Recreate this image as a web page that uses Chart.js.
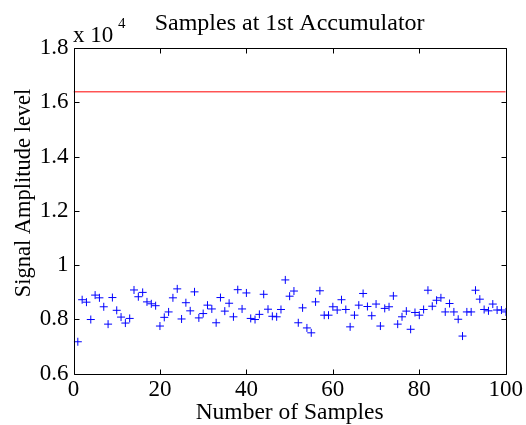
<!DOCTYPE html>
<html>
<head>
<meta charset="utf-8">
<script src="https://cdn.jsdelivr.net/npm/chart.js@4.4.1/dist/chart.umd.min.js"></script>
<style>
  html, body { margin: 0; padding: 0; background: #fff; }
  #wrap { width: 526px; height: 425px; }
</style>
</head>
<body>
<div id="wrap"><canvas id="accChart" width="526" height="425"></canvas></div>
<script>
// sample number 1..100
const sampleIndex = [
    1, 2, 3, 4, 5, 6, 7, 8, 9, 10,
    11, 12, 13, 14, 15, 16, 17, 18, 19, 20,
    21, 22, 23, 24, 25, 26, 27, 28, 29, 30,
    31, 32, 33, 34, 35, 36, 37, 38, 39, 40,
    41, 42, 43, 44, 45, 46, 47, 48, 49, 50,
    51, 52, 53, 54, 55, 56, 57, 58, 59, 60,
    61, 62, 63, 64, 65, 66, 67, 68, 69, 70,
    71, 72, 73, 74, 75, 76, 77, 78, 79, 80,
    81, 82, 83, 84, 85, 86, 87, 88, 89, 90,
    91, 92, 93, 94, 95, 96, 97, 98, 99, 100
];

// accumulator output per sample
const sampleValues = [
    7170, 8720, 8630, 7990, 8890, 8790, 8460, 7820, 8800, 8330,
    8080, 7860, 8030, 9080, 8830, 8990, 8640, 8570, 8500, 7750,
    8070, 8270, 8790, 9120, 8010, 8610, 8310, 9010, 8050, 8210,
    8520, 8380, 7870, 8800, 8300, 8590, 8090, 9090, 8380, 8970,
    8030, 7990, 8180, 8920, 8370, 8110, 8090, 8360, 9450, 8850,
    9040, 7870, 8420, 7680, 7500, 8640, 9050, 8150, 8150, 8460,
    8340, 8720, 8360, 7720, 8150, 8520, 8950, 8470, 8130, 8560,
    7750, 8400, 8460, 8860, 7820, 8090, 8300, 7630, 8250, 8150,
    8360, 9070, 8480, 8700, 8790, 8270, 8580, 8270, 8000, 7380,
    8270, 8270, 9070, 8740, 8360, 8310, 8560, 8340, 8340, 8270
];

// threshold line (2^14)
const thresholdValue = 16384;
const thresholdX = [0, 100];

const xTicks = [0, 20, 40, 60, 80, 100];
const yTicks = [6000, 8000, 10000, 12000, 14000, 16000, 18000];

const serif = '"Liberation Serif", "Times New Roman", serif';

// box + inward ticks + texts, matlab style
const matlabFrame = {
    id: 'matlabFrame',
    afterDraw(chart) {
        const ctx = chart.ctx;
        const a = chart.chartArea;
        const xs = chart.scales.x;
        const ys = chart.scales.y;
        const L = Math.round(a.left) + 0.5, R = Math.round(a.right) + 0.5;
        const T = Math.round(a.top) + 0.5, B = Math.round(a.bottom) + 0.5;
        const tl = 5;

        ctx.save();
        ctx.strokeStyle = '#000';
        ctx.lineWidth = 1;
        ctx.beginPath();
        ctx.rect(L, T, R - L, B - T);
        xTicks.forEach(v => {
            const px = Math.round(xs.getPixelForValue(v)) + 0.5;
            ctx.moveTo(px, B); ctx.lineTo(px, B - tl);
            ctx.moveTo(px, T); ctx.lineTo(px, T + tl);
        });
        yTicks.forEach(v => {
            const py = Math.round(ys.getPixelForValue(v)) + 0.5;
            ctx.moveTo(L, py); ctx.lineTo(L + tl, py);
            ctx.moveTo(R, py); ctx.lineTo(R - tl, py);
        });
        ctx.stroke();

        ctx.fillStyle = '#000';
        ctx.textBaseline = 'alphabetic';

        ctx.textAlign = 'center';
        ctx.font = '24px ' + serif;
        ctx.fillText('Samples at 1st Accumulator', (a.left + a.right) / 2, 30);
        ctx.font = '23.5px ' + serif;
        ctx.fillText('Number of Samples', (a.left + a.right) / 2, 419);

        ctx.textAlign = 'left';
        ctx.font = '23px ' + serif;
        ctx.fillText('x 10', 73, 42);
        ctx.font = '15px ' + serif;
        ctx.fillText('4', 118, 28);

        ctx.font = '22.5px ' + serif;
        ctx.translate(30, 193);
        ctx.rotate(-Math.PI / 2);
        ctx.textAlign = 'center';
        ctx.fillText('Signal Amplitude level', 0, 0);
        ctx.restore();
    }
};

const ctx = document.getElementById('accChart').getContext('2d');

new Chart(ctx, {
    type: 'scatter',
    data: {
        datasets: [{
            label: 'samples',
            data: sampleIndex.map((n, i) => ({ x: n, y: sampleValues[i] })),
            pointStyle: 'cross',
            pointRadius: 4,
            pointHoverRadius: 4,
            borderColor: '#0000ff',
            backgroundColor: '#0000ff',
            pointBorderWidth: 1,
            showLine: false
        }, {
            label: 'threshold',
            data: thresholdX.map(x => ({ x: x, y: thresholdValue })),
            showLine: true,
            borderColor: '#ff0000',
            borderWidth: 1,
            pointRadius: 0
        }]
    },
    options: {
        responsive: false,
        animation: false,
        events: [],
        devicePixelRatio: 1,
        layout: { padding: { top: 48, right: 17, bottom: 0, left: 0 } },
        plugins: {
            legend: { display: false },
            title: { display: false },
            tooltip: { enabled: false }
        },
        scales: {
            x: {
                type: 'linear',
                min: 0,
                max: 100,
                afterFit: s => { s.height = 51.5; },
                afterBuildTicks: s => { s.ticks = xTicks.map(v => ({ value: v })); },
                grid: { display: false, drawTicks: false },
                border: { display: false },
                ticks: {
                    color: '#000',
                    padding: 3,
                    maxRotation: 0,
                    font: { family: serif, size: 23 }
                }
            },
            y: {
                type: 'linear',
                min: 6000,
                max: 18000,
                afterFit: s => { s.width = 73.5; },
                afterBuildTicks: s => { s.ticks = yTicks.map(v => ({ value: v })); },
                grid: { display: false, drawTicks: false },
                border: { display: false },
                ticks: {
                    color: '#000',
                    padding: 5,
                    font: { family: serif, size: 23 },
                    callback: function (value) {
                        return String(value / 10000);
                    }
                }
            }
        }
    },
    plugins: [matlabFrame]
});
</script>
</body>
</html>
